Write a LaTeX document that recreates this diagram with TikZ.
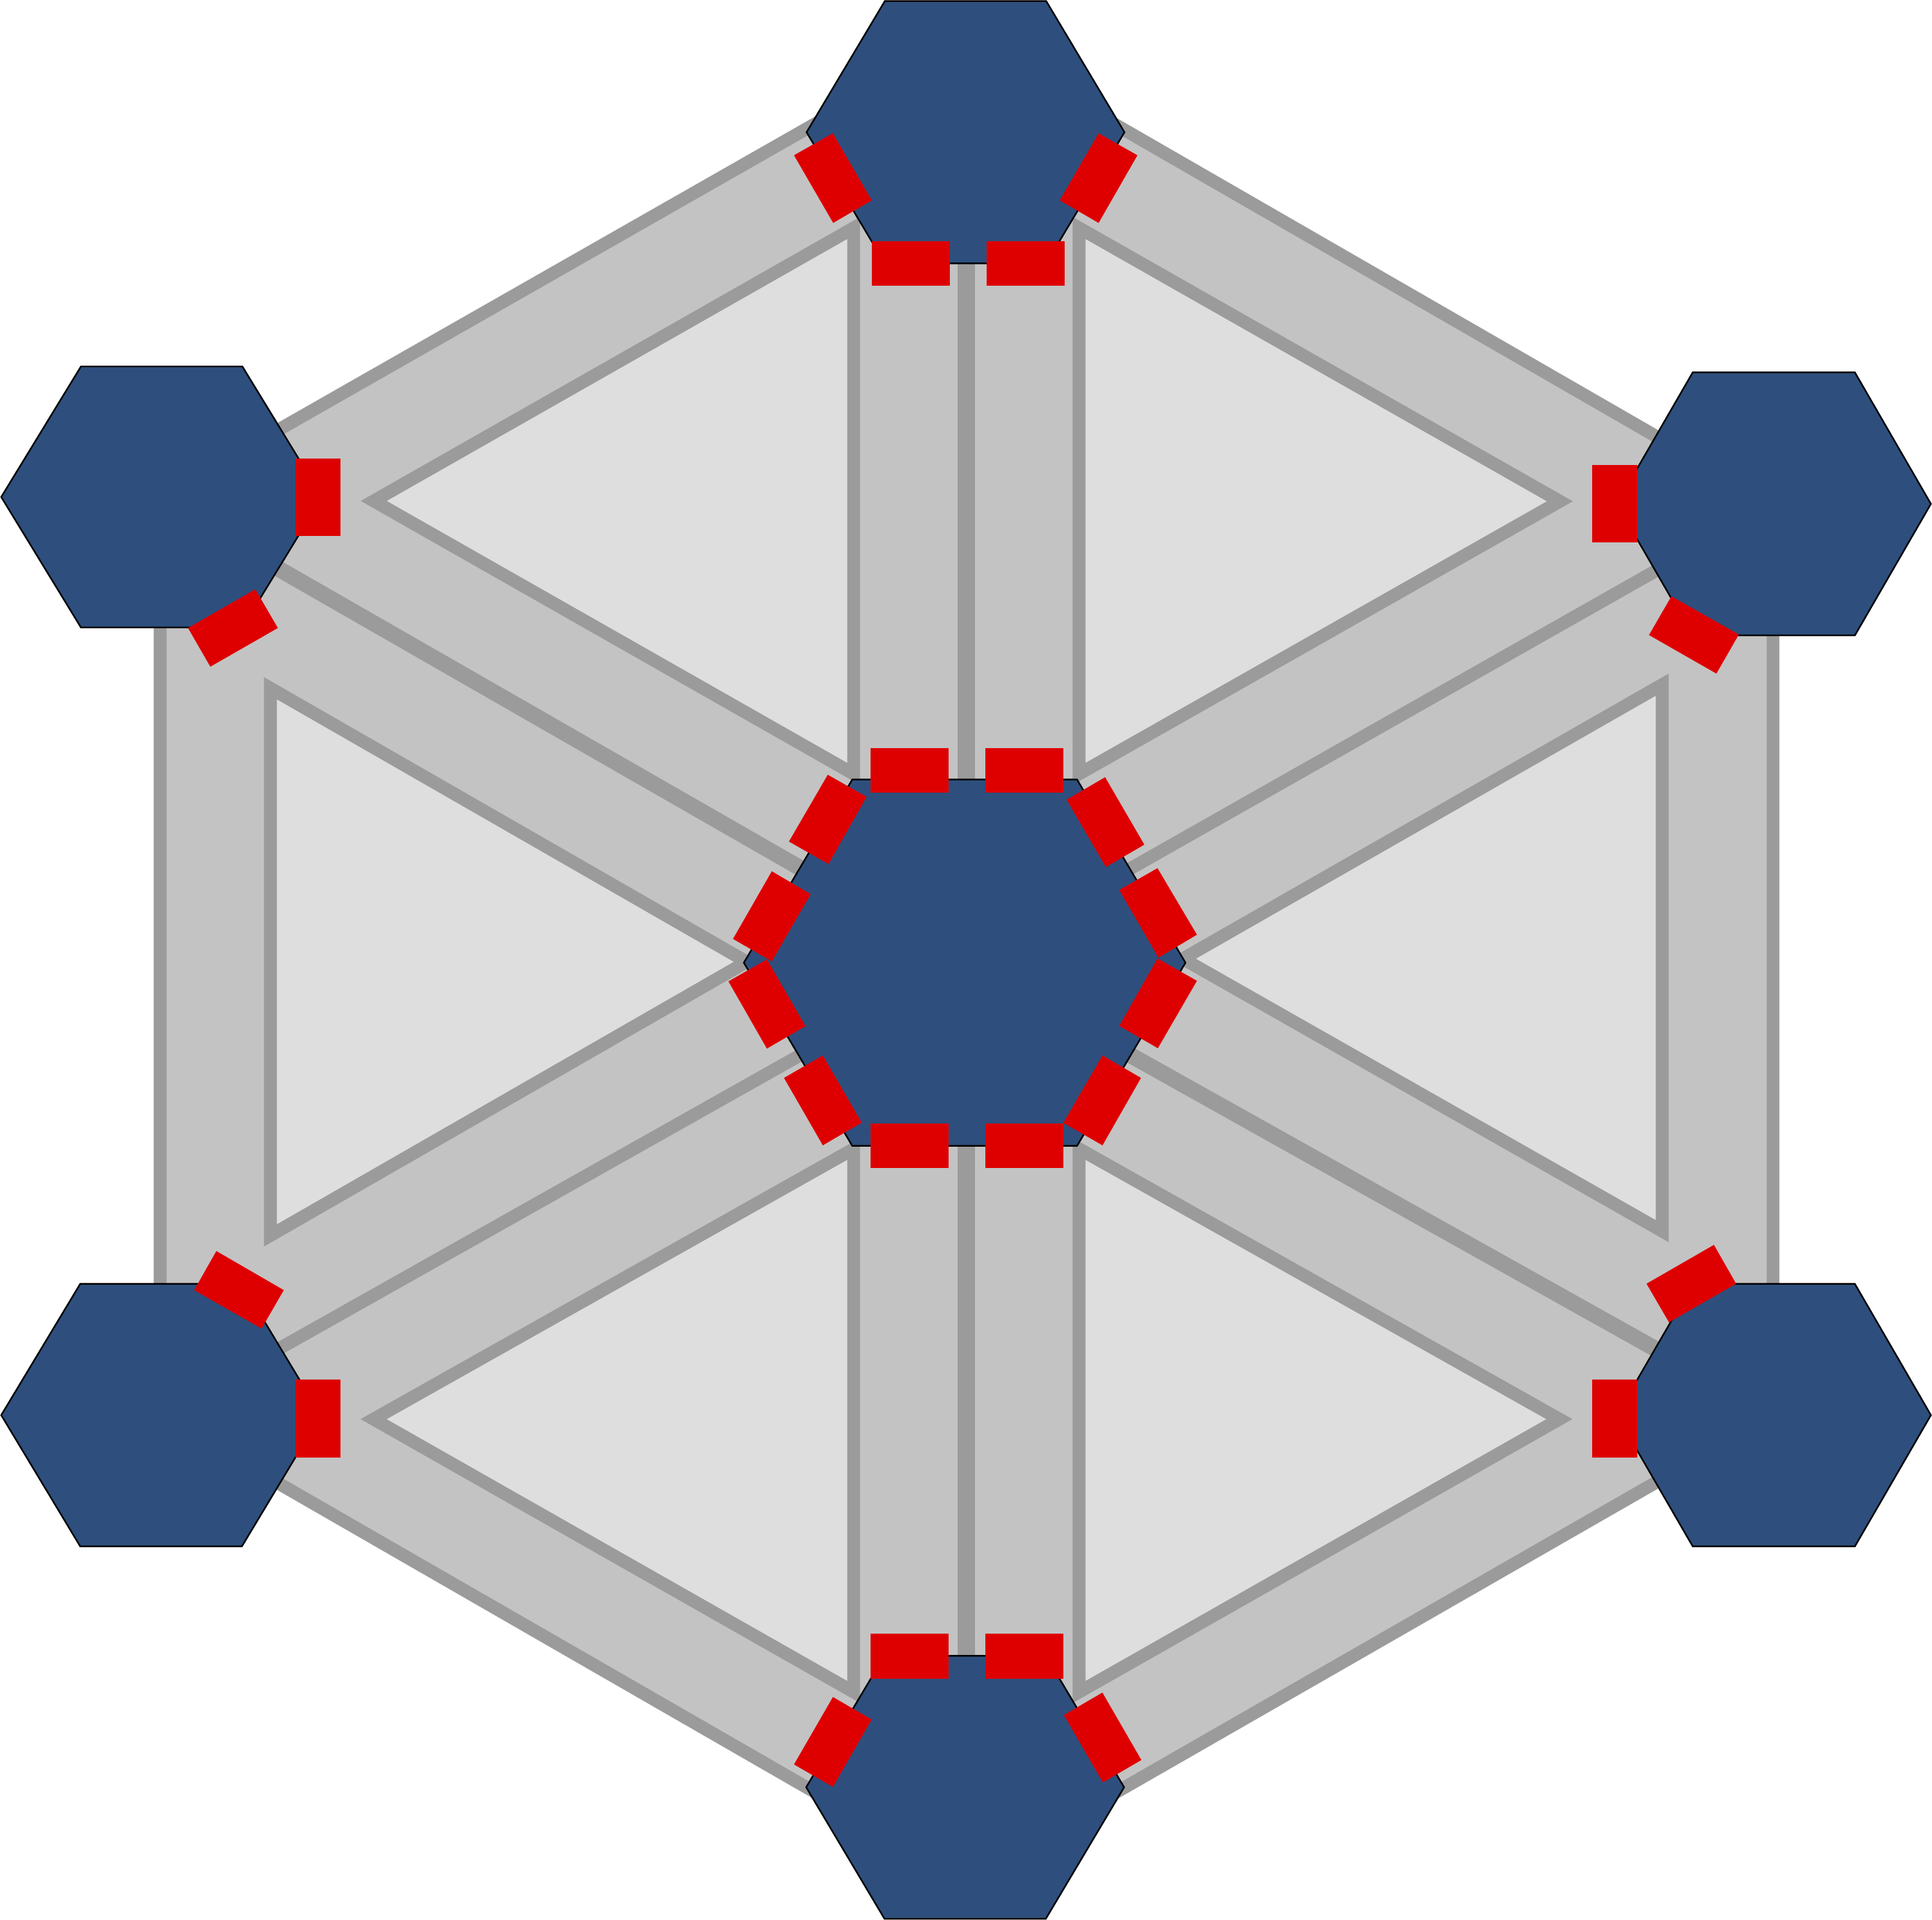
\documentclass[tikz,border=0pt]{standalone}
\definecolor{hexblue}{RGB}{46,79,125}
\definecolor{midg}{RGB}{195,195,195}
\definecolor{lineg}{RGB}{155,155,155}
\definecolor{lightg}{RGB}{222,222,222}
\definecolor{redc}{RGB}{222,0,0}
\newcommand{\bluehex}[5]{\draw[bhex] ({#1-#3},#2) -- ({#1-#4},{#2-#5}) -- ({#1+#4},{#2-#5}) -- ({#1+#3},#2) -- ({#1+#4},{#2+#5}) -- ({#1-#4},{#2+#5}) -- cycle;}
\begin{document}
\begin{tikzpicture}[x=1pt,y=-1pt,
  outl/.style={draw=lineg,line width=10.4pt,line join=miter,fill=midg},
  tri/.style={draw=lineg,line width=10.4pt,line join=miter,fill=lightg},
  spoke/.style={draw=lineg,line width=10.4pt},
  wspoke/.style={draw=lineg,line width=13pt},
  vspoke/.style={draw=lineg,line width=14pt},
  bhex/.style={fill=hexblue,draw=black,line width=1.3pt,line join=miter},
  redbox/.style={fill=redc}]
\useasboundingbox (0,0) rectangle (1568,1558);
% centres
\coordinate (C) at (783,781);
\coordinate (pT) at (784.2,107.3);
\coordinate (pB) at (784.2,1450.3);
\coordinate (pUL) at (131,407);
\coordinate (pUR) at (1439.6,408.9);
\coordinate (pLL) at (130.7,1148.35);
\coordinate (pLR) at (1439.6,1148.35);
% big hexagon
\draw[outl] (783.5,31) -- (1439,408.8) -- (1439,1148.4) -- (783.5,1524.6) -- (130,1148.4) -- (130,403.5) -- cycle;
% spokes
\draw[vspoke] (pT) -- (pB);
\draw[wspoke] (C) -- (pUL);
\draw[spoke] (C) -- (pUR);
\draw[spoke] (C) -- (pLL);
\draw[wspoke] (C) -- (pLR);
% triangles
\draw[tri] (303.3,406.5) -- (692.8,185) -- (692.8,628) -- cycle;
\draw[tri] (875.8,185) -- (1266,406.8) -- (875.8,628) -- cycle;
\draw[tri] (219.5,558.5) -- (606,780.5) -- (219.5,1002.5) -- cycle;
\draw[tri] (1349,555.6) -- (960,778) -- (1349,999) -- cycle;
\draw[tri] (303.2,1151.6) -- (692.8,932.3) -- (692.8,1373) -- cycle;
\draw[tri] (875.8,932.3) -- (1265.6,1151.6) -- (875.8,1373) -- cycle;
% blue hexagons
\bluehex{783.6}{107.3}{129}{65.5}{106.4}
\bluehex{131.2}{403.3}{130.2}{65.5}{105.9}
\bluehex{1439.6}{408.9}{127.5}{65.8}{106.7}
\bluehex{130.7}{1148.35}{129.7}{65.6}{106.5}
\bluehex{1439.6}{1148.35}{127.5}{65.8}{106.5}
\bluehex{783.3}{1450.3}{129}{65.5}{106.7}
\bluehex{782.9}{781.2}{179.2}{91.2}{148.65}
% red boxes: top hexagon
\fill[redbox] (644.4,126.0) -- (675.9,108.2) -- (707.5,162.6) -- (676.2,180.9) -- cycle;
\fill[redbox] (891.6,108.2) -- (923.1,126.0) -- (891.6,180.9) -- (860.1,162.6) -- cycle;
\fill[redbox] (707.5,195.7) rectangle (770.8,232);
\fill[redbox] (800.7,195.7) rectangle (864,232);
% upper left
\fill[redbox] (239.7,372) rectangle (276.4,435);
\fill[redbox] (152.6,509.6) -- (207.2,478.2) -- (225.5,509.6) -- (170.7,541) -- cycle;
% upper right
\fill[redbox] (1292.3,377.3) rectangle (1328.9,440.4);
\fill[redbox] (1356.5,483.9) -- (1411.2,514.9) -- (1393.0,546.6) -- (1338.3,515.3) -- cycle;
% lower right
\fill[redbox] (1292.3,1119.6) rectangle (1328.9,1182.7);
\fill[redbox] (1336.3,1041.7) -- (1391.0,1010.2) -- (1409.0,1041.7) -- (1354.5,1073.0) -- cycle;
% lower left
\fill[redbox] (239.7,1119.6) rectangle (276.4,1182.7);
\fill[redbox] (157.6,1046.9) -- (175.6,1015.2) -- (230.3,1046.9) -- (212.3,1078.1) -- cycle;
% bottom
\fill[redbox] (706.6,1325.8) rectangle (769.9,1362.5);
\fill[redbox] (799.8,1325.8) rectangle (863.1,1362.5);
\fill[redbox] (676.0,1377.1) -- (707.4,1395.3) -- (676.0,1450.0) -- (644.4,1431.8) -- cycle;
\fill[redbox] (863.5,1391.7) -- (894.7,1373.5) -- (926.3,1428.2) -- (895.1,1446.4) -- cycle;
% centre hexagon
\fill[redbox] (706.5,606.9) rectangle (769.8,643.4);
\fill[redbox] (799.7,606.9) rectangle (863.0,643.4);
\fill[redbox] (706.5,911.7) rectangle (769.8,948.0);
\fill[redbox] (799.7,911.7) rectangle (863.0,948.0);
\fill[redbox] (671.8,628.7) -- (703.3,646.6) -- (672.4,701.1) -- (640.3,682.9) -- cycle;
\fill[redbox] (626.4,707.0) -- (657.9,725.6) -- (626.4,780.1) -- (594.9,761.9) -- cycle;
\fill[redbox] (896.9,630.7) -- (928.7,685.4) -- (897.5,703.6) -- (865.7,648.9) -- cycle;
\fill[redbox] (939.4,704.5) -- (971.4,758.5) -- (940.2,777.1) -- (908.4,722.2) -- cycle;
\fill[redbox] (622.4,778.5) -- (653.7,832.7) -- (622.4,850.9) -- (591.2,796.4) -- cycle;
\fill[redbox] (667.8,856.5) -- (699.3,911.0) -- (667.8,929.4) -- (636.3,874.7) -- cycle;
\fill[redbox] (939.4,777.8) -- (971.4,795.9) -- (939.7,850.6) -- (908.4,832.5) -- cycle;
\fill[redbox] (894.8,856.5) -- (926.0,874.7) -- (894.8,929.4) -- (863.0,911.2) -- cycle;
\end{tikzpicture}
\end{document}
